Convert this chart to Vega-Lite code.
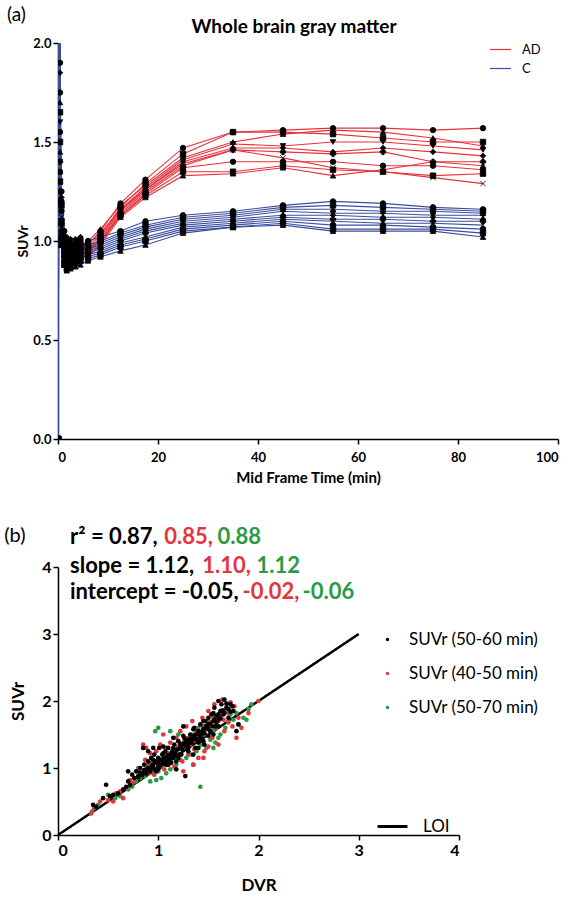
{
"$schema":"https://vega.github.io/schema/vega-lite/v6.json",
"padding":{"left":4,"top":6,"right":5,"bottom":5},
"spacing":40,
"resolve":{"scale":{"color":"independent","shape":"independent","strokeDash":"independent"}},
"config":{"view":{"stroke":null},"font":"Lato","axis":{"domainColor":"black","tickColor":"black","labelColor":"black","titleColor":"black","domainWidth":1.5,"tickWidth":1.5,"grid":false,"labelFontWeight":"bold","titleFontWeight":"bold","labelFont":"Lato","titleFont":"Lato","tickSize":5},"legend":{"labelFont":"Lato","labelColor":"black"}},
"datasets":{"suv":[
{"g":"AD","k":1,"t":0.05,"v":0},{"g":"AD","k":1,"t":0.2,"v":3.2},{"g":"AD","k":1,"t":0.4,"v":1.75},{"g":"AD","k":1,"t":0.7,"v":1.2},{"g":"AD","k":1,"t":1.25,"v":1.0},{"g":"AD","k":1,"t":1.75,"v":0.97},{"g":"AD","k":1,"t":2.5,"v":0.96},{"g":"AD","k":1,"t":3.5,"v":0.97},{"g":"AD","k":1,"t":4.5,"v":0.98},{"g":"AD","k":1,"t":6,"v":0.98},{"g":"AD","k":1,"t":8.5,"v":1.05},{"g":"AD","k":1,"t":12.5,"v":1.19},{"g":"AD","k":1,"t":17.5,"v":1.31},{"g":"AD","k":1,"t":25,"v":1.47},{"g":"AD","k":1,"t":35,"v":1.55},{"g":"AD","k":1,"t":45,"v":1.56},{"g":"AD","k":1,"t":55,"v":1.57},{"g":"AD","k":1,"t":65,"v":1.57},{"g":"AD","k":1,"t":75,"v":1.56},{"g":"AD","k":1,"t":85,"v":1.57},
{"g":"AD","k":2,"t":0.05,"v":0},{"g":"AD","k":2,"t":0.2,"v":2.8},{"g":"AD","k":2,"t":0.4,"v":1.5},{"g":"AD","k":2,"t":0.7,"v":1.1},{"g":"AD","k":2,"t":1.25,"v":0.95},{"g":"AD","k":2,"t":1.75,"v":0.92},{"g":"AD","k":2,"t":2.5,"v":0.93},{"g":"AD","k":2,"t":3.5,"v":0.95},{"g":"AD","k":2,"t":4.5,"v":0.96},{"g":"AD","k":2,"t":6,"v":0.97},{"g":"AD","k":2,"t":8.5,"v":1.03},{"g":"AD","k":2,"t":12.5,"v":1.17},{"g":"AD","k":2,"t":17.5,"v":1.29},{"g":"AD","k":2,"t":25,"v":1.44},{"g":"AD","k":2,"t":35,"v":1.55},{"g":"AD","k":2,"t":45,"v":1.55},{"g":"AD","k":2,"t":55,"v":1.54},{"g":"AD","k":2,"t":65,"v":1.52},{"g":"AD","k":2,"t":75,"v":1.5},{"g":"AD","k":2,"t":85,"v":1.5},
{"g":"AD","k":3,"t":0.05,"v":0},{"g":"AD","k":3,"t":0.2,"v":3.5},{"g":"AD","k":3,"t":0.4,"v":1.35},{"g":"AD","k":3,"t":0.7,"v":1.05},{"g":"AD","k":3,"t":1.25,"v":0.92},{"g":"AD","k":3,"t":1.75,"v":0.9},{"g":"AD","k":3,"t":2.5,"v":0.91},{"g":"AD","k":3,"t":3.5,"v":0.93},{"g":"AD","k":3,"t":4.5,"v":0.95},{"g":"AD","k":3,"t":6,"v":1.0},{"g":"AD","k":3,"t":8.5,"v":1.06},{"g":"AD","k":3,"t":12.5,"v":1.18},{"g":"AD","k":3,"t":17.5,"v":1.28},{"g":"AD","k":3,"t":25,"v":1.42},{"g":"AD","k":3,"t":35,"v":1.5},{"g":"AD","k":3,"t":45,"v":1.54},{"g":"AD","k":3,"t":55,"v":1.56},{"g":"AD","k":3,"t":65,"v":1.55},{"g":"AD","k":3,"t":75,"v":1.52},{"g":"AD","k":3,"t":85,"v":1.48},
{"g":"AD","k":4,"t":0.05,"v":0},{"g":"AD","k":4,"t":0.2,"v":2.5},{"g":"AD","k":4,"t":0.4,"v":1.6},{"g":"AD","k":4,"t":0.7,"v":1.15},{"g":"AD","k":4,"t":1.25,"v":1.02},{"g":"AD","k":4,"t":1.75,"v":0.98},{"g":"AD","k":4,"t":2.5,"v":0.97},{"g":"AD","k":4,"t":3.5,"v":0.98},{"g":"AD","k":4,"t":4.5,"v":0.99},{"g":"AD","k":4,"t":6,"v":0.95},{"g":"AD","k":4,"t":8.5,"v":1.02},{"g":"AD","k":4,"t":12.5,"v":1.16},{"g":"AD","k":4,"t":17.5,"v":1.27},{"g":"AD","k":4,"t":25,"v":1.41},{"g":"AD","k":4,"t":35,"v":1.49},{"g":"AD","k":4,"t":45,"v":1.48},{"g":"AD","k":4,"t":55,"v":1.5},{"g":"AD","k":4,"t":65,"v":1.5},{"g":"AD","k":4,"t":75,"v":1.48},{"g":"AD","k":4,"t":85,"v":1.46},
{"g":"AD","k":5,"t":0.05,"v":0},{"g":"AD","k":5,"t":0.2,"v":3.0},{"g":"AD","k":5,"t":0.4,"v":1.25},{"g":"AD","k":5,"t":0.7,"v":1.0},{"g":"AD","k":5,"t":1.25,"v":0.9},{"g":"AD","k":5,"t":1.75,"v":0.88},{"g":"AD","k":5,"t":2.5,"v":0.89},{"g":"AD","k":5,"t":3.5,"v":0.9},{"g":"AD","k":5,"t":4.5,"v":0.92},{"g":"AD","k":5,"t":6,"v":0.96},{"g":"AD","k":5,"t":8.5,"v":1.01},{"g":"AD","k":5,"t":12.5,"v":1.15},{"g":"AD","k":5,"t":17.5,"v":1.26},{"g":"AD","k":5,"t":25,"v":1.4},{"g":"AD","k":5,"t":35,"v":1.47},{"g":"AD","k":5,"t":45,"v":1.47},{"g":"AD","k":5,"t":55,"v":1.45},{"g":"AD","k":5,"t":65,"v":1.47},{"g":"AD","k":5,"t":75,"v":1.45},{"g":"AD","k":5,"t":85,"v":1.43},
{"g":"AD","k":6,"t":0.05,"v":0},{"g":"AD","k":6,"t":0.2,"v":2.7},{"g":"AD","k":6,"t":0.4,"v":1.4},{"g":"AD","k":6,"t":0.7,"v":1.08},{"g":"AD","k":6,"t":1.25,"v":0.97},{"g":"AD","k":6,"t":1.75,"v":0.95},{"g":"AD","k":6,"t":2.5,"v":0.94},{"g":"AD","k":6,"t":3.5,"v":0.95},{"g":"AD","k":6,"t":4.5,"v":0.96},{"g":"AD","k":6,"t":6,"v":0.94},{"g":"AD","k":6,"t":8.5,"v":1.0},{"g":"AD","k":6,"t":12.5,"v":1.14},{"g":"AD","k":6,"t":17.5,"v":1.25},{"g":"AD","k":6,"t":25,"v":1.38},{"g":"AD","k":6,"t":35,"v":1.46},{"g":"AD","k":6,"t":45,"v":1.45},{"g":"AD","k":6,"t":55,"v":1.44},{"g":"AD","k":6,"t":65,"v":1.45},{"g":"AD","k":6,"t":75,"v":1.4},{"g":"AD","k":6,"t":85,"v":1.4},
{"g":"AD","k":7,"t":0.05,"v":0},{"g":"AD","k":7,"t":0.2,"v":3.8},{"g":"AD","k":7,"t":0.4,"v":1.3},{"g":"AD","k":7,"t":0.7,"v":1.12},{"g":"AD","k":7,"t":1.25,"v":0.99},{"g":"AD","k":7,"t":1.75,"v":0.96},{"g":"AD","k":7,"t":2.5,"v":0.95},{"g":"AD","k":7,"t":3.5,"v":0.96},{"g":"AD","k":7,"t":4.5,"v":0.98},{"g":"AD","k":7,"t":6,"v":0.99},{"g":"AD","k":7,"t":8.5,"v":1.04},{"g":"AD","k":7,"t":12.5,"v":1.16},{"g":"AD","k":7,"t":17.5,"v":1.26},{"g":"AD","k":7,"t":25,"v":1.39},{"g":"AD","k":7,"t":35,"v":1.46},{"g":"AD","k":7,"t":45,"v":1.42},{"g":"AD","k":7,"t":55,"v":1.37},{"g":"AD","k":7,"t":65,"v":1.35},{"g":"AD","k":7,"t":75,"v":1.32},{"g":"AD","k":7,"t":85,"v":1.29},
{"g":"AD","k":8,"t":0.05,"v":0},{"g":"AD","k":8,"t":0.2,"v":2.4},{"g":"AD","k":8,"t":0.4,"v":1.9},{"g":"AD","k":8,"t":0.7,"v":1.25},{"g":"AD","k":8,"t":1.25,"v":1.05},{"g":"AD","k":8,"t":1.75,"v":1.0},{"g":"AD","k":8,"t":2.5,"v":0.99},{"g":"AD","k":8,"t":3.5,"v":1.0},{"g":"AD","k":8,"t":4.5,"v":1.01},{"g":"AD","k":8,"t":6,"v":0.93},{"g":"AD","k":8,"t":8.5,"v":0.99},{"g":"AD","k":8,"t":12.5,"v":1.13},{"g":"AD","k":8,"t":17.5,"v":1.24},{"g":"AD","k":8,"t":25,"v":1.37},{"g":"AD","k":8,"t":35,"v":1.4},{"g":"AD","k":8,"t":45,"v":1.4},{"g":"AD","k":8,"t":55,"v":1.4},{"g":"AD","k":8,"t":65,"v":1.38},{"g":"AD","k":8,"t":75,"v":1.38},{"g":"AD","k":8,"t":85,"v":1.36},
{"g":"AD","k":9,"t":0.05,"v":0},{"g":"AD","k":9,"t":0.2,"v":2.9},{"g":"AD","k":9,"t":0.4,"v":1.2},{"g":"AD","k":9,"t":0.7,"v":0.98},{"g":"AD","k":9,"t":1.25,"v":0.88},{"g":"AD","k":9,"t":1.75,"v":0.86},{"g":"AD","k":9,"t":2.5,"v":0.87},{"g":"AD","k":9,"t":3.5,"v":0.89},{"g":"AD","k":9,"t":4.5,"v":0.9},{"g":"AD","k":9,"t":6,"v":0.95},{"g":"AD","k":9,"t":8.5,"v":1.0},{"g":"AD","k":9,"t":12.5,"v":1.13},{"g":"AD","k":9,"t":17.5,"v":1.23},{"g":"AD","k":9,"t":25,"v":1.35},{"g":"AD","k":9,"t":35,"v":1.35},{"g":"AD","k":9,"t":45,"v":1.38},{"g":"AD","k":9,"t":55,"v":1.36},{"g":"AD","k":9,"t":65,"v":1.35},{"g":"AD","k":9,"t":75,"v":1.33},{"g":"AD","k":9,"t":85,"v":1.34},
{"g":"AD","k":10,"t":0.05,"v":0},{"g":"AD","k":10,"t":0.2,"v":3.1},{"g":"AD","k":10,"t":0.4,"v":1.45},{"g":"AD","k":10,"t":0.7,"v":1.1},{"g":"AD","k":10,"t":1.25,"v":0.96},{"g":"AD","k":10,"t":1.75,"v":0.93},{"g":"AD","k":10,"t":2.5,"v":0.92},{"g":"AD","k":10,"t":3.5,"v":0.93},{"g":"AD","k":10,"t":4.5,"v":0.94},{"g":"AD","k":10,"t":6,"v":0.92},{"g":"AD","k":10,"t":8.5,"v":0.98},{"g":"AD","k":10,"t":12.5,"v":1.12},{"g":"AD","k":10,"t":17.5,"v":1.22},{"g":"AD","k":10,"t":25,"v":1.33},{"g":"AD","k":10,"t":35,"v":1.34},{"g":"AD","k":10,"t":45,"v":1.37},{"g":"AD","k":10,"t":55,"v":1.33},{"g":"AD","k":10,"t":65,"v":1.36},{"g":"AD","k":10,"t":75,"v":1.4},{"g":"AD","k":10,"t":85,"v":1.38},
{"g":"C","k":1,"t":0.05,"v":0},{"g":"C","k":1,"t":0.2,"v":3.0},{"g":"C","k":1,"t":0.4,"v":1.55},{"g":"C","k":1,"t":0.7,"v":1.15},{"g":"C","k":1,"t":1.25,"v":0.98},{"g":"C","k":1,"t":1.75,"v":0.95},{"g":"C","k":1,"t":2.5,"v":0.95},{"g":"C","k":1,"t":3.5,"v":0.96},{"g":"C","k":1,"t":4.5,"v":0.97},{"g":"C","k":1,"t":6,"v":1.0},{"g":"C","k":1,"t":8.5,"v":1.02},{"g":"C","k":1,"t":12.5,"v":1.05},{"g":"C","k":1,"t":17.5,"v":1.1},{"g":"C","k":1,"t":25,"v":1.13},{"g":"C","k":1,"t":35,"v":1.15},{"g":"C","k":1,"t":45,"v":1.18},{"g":"C","k":1,"t":55,"v":1.2},{"g":"C","k":1,"t":65,"v":1.19},{"g":"C","k":1,"t":75,"v":1.17},{"g":"C","k":1,"t":85,"v":1.16},
{"g":"C","k":2,"t":0.05,"v":0},{"g":"C","k":2,"t":0.2,"v":2.6},{"g":"C","k":2,"t":0.4,"v":1.3},{"g":"C","k":2,"t":0.7,"v":1.02},{"g":"C","k":2,"t":1.25,"v":0.93},{"g":"C","k":2,"t":1.75,"v":0.9},{"g":"C","k":2,"t":2.5,"v":0.91},{"g":"C","k":2,"t":3.5,"v":0.92},{"g":"C","k":2,"t":4.5,"v":0.93},{"g":"C","k":2,"t":6,"v":0.98},{"g":"C","k":2,"t":8.5,"v":1.0},{"g":"C","k":2,"t":12.5,"v":1.04},{"g":"C","k":2,"t":17.5,"v":1.08},{"g":"C","k":2,"t":25,"v":1.12},{"g":"C","k":2,"t":35,"v":1.14},{"g":"C","k":2,"t":45,"v":1.17},{"g":"C","k":2,"t":55,"v":1.18},{"g":"C","k":2,"t":65,"v":1.17},{"g":"C","k":2,"t":75,"v":1.16},{"g":"C","k":2,"t":85,"v":1.15},
{"g":"C","k":3,"t":0.05,"v":0},{"g":"C","k":3,"t":0.2,"v":3.4},{"g":"C","k":3,"t":0.4,"v":1.7},{"g":"C","k":3,"t":0.7,"v":1.2},{"g":"C","k":3,"t":1.25,"v":1.03},{"g":"C","k":3,"t":1.75,"v":1.0},{"g":"C","k":3,"t":2.5,"v":0.99},{"g":"C","k":3,"t":3.5,"v":0.99},{"g":"C","k":3,"t":4.5,"v":1.0},{"g":"C","k":3,"t":6,"v":0.97},{"g":"C","k":3,"t":8.5,"v":0.99},{"g":"C","k":3,"t":12.5,"v":1.03},{"g":"C","k":3,"t":17.5,"v":1.07},{"g":"C","k":3,"t":25,"v":1.11},{"g":"C","k":3,"t":35,"v":1.13},{"g":"C","k":3,"t":45,"v":1.16},{"g":"C","k":3,"t":55,"v":1.16},{"g":"C","k":3,"t":65,"v":1.15},{"g":"C","k":3,"t":75,"v":1.15},{"g":"C","k":3,"t":85,"v":1.14},
{"g":"C","k":4,"t":0.05,"v":0},{"g":"C","k":4,"t":0.2,"v":2.7},{"g":"C","k":4,"t":0.4,"v":1.4},{"g":"C","k":4,"t":0.7,"v":1.1},{"g":"C","k":4,"t":1.25,"v":0.96},{"g":"C","k":4,"t":1.75,"v":0.93},{"g":"C","k":4,"t":2.5,"v":0.93},{"g":"C","k":4,"t":3.5,"v":0.94},{"g":"C","k":4,"t":4.5,"v":0.95},{"g":"C","k":4,"t":6,"v":0.96},{"g":"C","k":4,"t":8.5,"v":0.98},{"g":"C","k":4,"t":12.5,"v":1.02},{"g":"C","k":4,"t":17.5,"v":1.06},{"g":"C","k":4,"t":25,"v":1.1},{"g":"C","k":4,"t":35,"v":1.12},{"g":"C","k":4,"t":45,"v":1.15},{"g":"C","k":4,"t":55,"v":1.14},{"g":"C","k":4,"t":65,"v":1.14},{"g":"C","k":4,"t":75,"v":1.13},{"g":"C","k":4,"t":85,"v":1.13},
{"g":"C","k":5,"t":0.05,"v":0},{"g":"C","k":5,"t":0.2,"v":3.6},{"g":"C","k":5,"t":0.4,"v":1.85},{"g":"C","k":5,"t":0.7,"v":1.22},{"g":"C","k":5,"t":1.25,"v":1.05},{"g":"C","k":5,"t":1.75,"v":1.02},{"g":"C","k":5,"t":2.5,"v":1.01},{"g":"C","k":5,"t":3.5,"v":1.01},{"g":"C","k":5,"t":4.5,"v":1.02},{"g":"C","k":5,"t":6,"v":0.95},{"g":"C","k":5,"t":8.5,"v":0.97},{"g":"C","k":5,"t":12.5,"v":1.01},{"g":"C","k":5,"t":17.5,"v":1.05},{"g":"C","k":5,"t":25,"v":1.09},{"g":"C","k":5,"t":35,"v":1.11},{"g":"C","k":5,"t":45,"v":1.13},{"g":"C","k":5,"t":55,"v":1.13},{"g":"C","k":5,"t":65,"v":1.12},{"g":"C","k":5,"t":75,"v":1.12},{"g":"C","k":5,"t":85,"v":1.11},
{"g":"C","k":6,"t":0.05,"v":0},{"g":"C","k":6,"t":0.2,"v":2.5},{"g":"C","k":6,"t":0.4,"v":1.25},{"g":"C","k":6,"t":0.7,"v":1.0},{"g":"C","k":6,"t":1.25,"v":0.9},{"g":"C","k":6,"t":1.75,"v":0.88},{"g":"C","k":6,"t":2.5,"v":0.89},{"g":"C","k":6,"t":3.5,"v":0.9},{"g":"C","k":6,"t":4.5,"v":0.91},{"g":"C","k":6,"t":6,"v":0.94},{"g":"C","k":6,"t":8.5,"v":0.96},{"g":"C","k":6,"t":12.5,"v":1.0},{"g":"C","k":6,"t":17.5,"v":1.04},{"g":"C","k":6,"t":25,"v":1.08},{"g":"C","k":6,"t":35,"v":1.1},{"g":"C","k":6,"t":45,"v":1.12},{"g":"C","k":6,"t":55,"v":1.11},{"g":"C","k":6,"t":65,"v":1.11},{"g":"C","k":6,"t":75,"v":1.1},{"g":"C","k":6,"t":85,"v":1.1},
{"g":"C","k":7,"t":0.05,"v":0},{"g":"C","k":7,"t":0.2,"v":3.1},{"g":"C","k":7,"t":0.4,"v":1.5},{"g":"C","k":7,"t":0.7,"v":1.12},{"g":"C","k":7,"t":1.25,"v":0.97},{"g":"C","k":7,"t":1.75,"v":0.94},{"g":"C","k":7,"t":2.5,"v":0.93},{"g":"C","k":7,"t":3.5,"v":0.94},{"g":"C","k":7,"t":4.5,"v":0.95},{"g":"C","k":7,"t":6,"v":0.93},{"g":"C","k":7,"t":8.5,"v":0.95},{"g":"C","k":7,"t":12.5,"v":0.99},{"g":"C","k":7,"t":17.5,"v":1.02},{"g":"C","k":7,"t":25,"v":1.07},{"g":"C","k":7,"t":35,"v":1.09},{"g":"C","k":7,"t":45,"v":1.11},{"g":"C","k":7,"t":55,"v":1.1},{"g":"C","k":7,"t":65,"v":1.09},{"g":"C","k":7,"t":75,"v":1.09},{"g":"C","k":7,"t":85,"v":1.08},
{"g":"C","k":8,"t":0.05,"v":0},{"g":"C","k":8,"t":0.2,"v":2.9},{"g":"C","k":8,"t":0.4,"v":1.35},{"g":"C","k":8,"t":0.7,"v":1.05},{"g":"C","k":8,"t":1.25,"v":0.92},{"g":"C","k":8,"t":1.75,"v":0.9},{"g":"C","k":8,"t":2.5,"v":0.9},{"g":"C","k":8,"t":3.5,"v":0.91},{"g":"C","k":8,"t":4.5,"v":0.92},{"g":"C","k":8,"t":6,"v":0.92},{"g":"C","k":8,"t":8.5,"v":0.94},{"g":"C","k":8,"t":12.5,"v":0.98},{"g":"C","k":8,"t":17.5,"v":1.01},{"g":"C","k":8,"t":25,"v":1.06},{"g":"C","k":8,"t":35,"v":1.08},{"g":"C","k":8,"t":45,"v":1.1},{"g":"C","k":8,"t":55,"v":1.08},{"g":"C","k":8,"t":65,"v":1.08},{"g":"C","k":8,"t":75,"v":1.07},{"g":"C","k":8,"t":85,"v":1.06},
{"g":"C","k":9,"t":0.05,"v":0},{"g":"C","k":9,"t":0.2,"v":3.3},{"g":"C","k":9,"t":0.4,"v":1.65},{"g":"C","k":9,"t":0.7,"v":1.18},{"g":"C","k":9,"t":1.25,"v":1.0},{"g":"C","k":9,"t":1.75,"v":0.97},{"g":"C","k":9,"t":2.5,"v":0.96},{"g":"C","k":9,"t":3.5,"v":0.96},{"g":"C","k":9,"t":4.5,"v":0.97},{"g":"C","k":9,"t":6,"v":0.91},{"g":"C","k":9,"t":8.5,"v":0.93},{"g":"C","k":9,"t":12.5,"v":0.97},{"g":"C","k":9,"t":17.5,"v":1.0},{"g":"C","k":9,"t":25,"v":1.05},{"g":"C","k":9,"t":35,"v":1.07},{"g":"C","k":9,"t":45,"v":1.09},{"g":"C","k":9,"t":55,"v":1.06},{"g":"C","k":9,"t":65,"v":1.06},{"g":"C","k":9,"t":75,"v":1.06},{"g":"C","k":9,"t":85,"v":1.04},
{"g":"C","k":10,"t":0.05,"v":0},{"g":"C","k":10,"t":0.2,"v":2.8},{"g":"C","k":10,"t":0.4,"v":1.2},{"g":"C","k":10,"t":0.7,"v":0.98},{"g":"C","k":10,"t":1.25,"v":0.88},{"g":"C","k":10,"t":1.75,"v":0.85},{"g":"C","k":10,"t":2.5,"v":0.86},{"g":"C","k":10,"t":3.5,"v":0.87},{"g":"C","k":10,"t":4.5,"v":0.88},{"g":"C","k":10,"t":6,"v":0.9},{"g":"C","k":10,"t":8.5,"v":0.92},{"g":"C","k":10,"t":12.5,"v":0.95},{"g":"C","k":10,"t":17.5,"v":0.98},{"g":"C","k":10,"t":25,"v":1.04},{"g":"C","k":10,"t":35,"v":1.07},{"g":"C","k":10,"t":45,"v":1.08},{"g":"C","k":10,"t":55,"v":1.05},{"g":"C","k":10,"t":65,"v":1.05},{"g":"C","k":10,"t":75,"v":1.05},{"g":"C","k":10,"t":85,"v":1.02}
]},
"vconcat":[
{
"width":500,"height":396,
"data":{"values":[{}]},
"layer":[
{"data":{"name":"suv"},"mark":{"type":"line","clip":true,"strokeWidth":1.1},"encoding":{
"x":{"field":"t","type":"quantitative","scale":{"domain":[0,100],"nice":false},"axis":{"values":[0,20,40,60,80,100],"format":"d","title":"Mid Frame Time (min)","labelFontSize":13,"labelPadding":7,"titleFontSize":15,"titlePadding":6}},
"y":{"field":"v","type":"quantitative","scale":{"domain":[0,2],"nice":false},"axis":{"values":[0,0.5,1,1.5,2],"format":".1f","title":"SUVr","labelFontSize":13,"titleFontSize":14,"titlePadding":2}},
"color":{"field":"g","type":"nominal","scale":{"domain":["AD","C"],"range":["#e8313b","#3b4e9e"]},"legend":{"title":null,"orient":"none","legendX":431,"legendY":-5,"symbolType":"stroke","symbolSize":441,"symbolStrokeWidth":1.2,"labelFontSize":13,"rowPadding":0,"labelOffset":10}},"detail":[{"field":"g"},{"field":"k"}]}},
{"data":{"name":"suv"},"mark":{"type":"point","clip":true,"filled":true,"size":30,"color":"black","stroke":"black","strokeWidth":0.8,"opacity":1},"encoding":{
"x":{"field":"t","type":"quantitative"},"y":{"field":"v","type":"quantitative"},
"shape":{"field":"k","type":"nominal","scale":{"range":["circle","square","triangle-up","triangle-down","diamond","cross","M-1,-1L1,1M1,-1L-1,1","circle","square","triangle-up"]},"legend":null}}},
{"mark":{"type":"text","fontSize":19,"align":"center","baseline":"middle","color":"black"},"encoding":{"x":{"datum":-8.3,"type":"quantitative"},"y":{"datum":2.14,"type":"quantitative"},"text":{"value":"(a)"}}},
{"mark":{"type":"text","fontSize":19,"fontWeight":"bold","align":"center","baseline":"middle","color":"black"},"encoding":{"x":{"datum":47.2,"type":"quantitative"},"y":{"datum":2.08,"type":"quantitative"},"text":{"value":"Whole brain gray matter"}}}
]
},
{
"width":401,"height":268,
"data":{"values":[{}]},
"layer":[
{"data":{"values":[{"x":0,"y":0,"l":"LOI"},{"x":3,"y":3,"l":"LOI"}]},"mark":{"type":"line","color":"black","strokeWidth":2.5},"encoding":{
"x":{"field":"x","type":"quantitative","scale":{"domain":[0,4],"nice":false},"axis":{"values":[0,1,2,3,4],"format":"d","title":"DVR","labelFontSize":16,"titleFontSize":17,"titlePadding":19}},
"y":{"field":"y","type":"quantitative","scale":{"domain":[0,4],"nice":false},"axis":{"values":[0,1,2,3,4],"format":"d","title":"SUVr","labelFontSize":16,"titleFontSize":17,"titlePadding":14}},
"strokeDash":{"field":"l","type":"nominal","scale":{"range":[[1,0]]},"legend":{"title":null,"orient":"none","legendX":318,"legendY":243,"symbolType":"stroke","symbolSize":900,"symbolStrokeWidth":3,"symbolStrokeColor":"black","labelFontSize":17,"labelOffset":14}}}},
{"data":{"values":[
{"s":"C","x":0.34,"y":0.35},{"s":"C","x":0.4,"y":0.45},{"s":"C","x":0.5,"y":0.6},{"s":"C","x":0.57,"y":0.55},{"s":"C","x":0.62,"y":0.58},{"s":"C","x":0.7,"y":0.68},{"s":"C","x":0.74,"y":0.72},{"s":"C","x":0.78,"y":0.8},{"s":"C","x":0.8,"y":1.0},{"s":"C","x":0.82,"y":0.85},{"s":"C","x":0.86,"y":0.88},{"s":"C","x":0.9,"y":1.05},{"s":"C","x":0.92,"y":0.8},{"s":"C","x":0.95,"y":0.92},{"s":"C","x":0.97,"y":1.55},{"s":"C","x":1.0,"y":1.6},{"s":"C","x":1.0,"y":0.95},{"s":"C","x":1.03,"y":0.85},{"s":"C","x":1.05,"y":1.08},{"s":"C","x":1.08,"y":0.92},{"s":"C","x":1.1,"y":1.15},{"s":"C","x":1.12,"y":0.98},{"s":"C","x":1.15,"y":1.25},{"s":"C","x":1.18,"y":1.05},{"s":"C","x":1.2,"y":1.5},{"s":"C","x":1.22,"y":1.12},{"s":"C","x":1.25,"y":1.3},{"s":"C","x":1.28,"y":1.15},{"s":"C","x":1.3,"y":1.4},{"s":"C","x":1.33,"y":1.2},{"s":"C","x":1.35,"y":1.5},{"s":"C","x":1.38,"y":1.25},{"s":"C","x":1.4,"y":1.6},{"s":"C","x":1.42,"y":0.72},{"s":"C","x":1.43,"y":1.35},{"s":"C","x":1.46,"y":1.5},{"s":"C","x":1.48,"y":1.3},{"s":"C","x":1.5,"y":1.7},{"s":"C","x":1.52,"y":1.42},{"s":"C","x":1.55,"y":1.55},{"s":"C","x":1.57,"y":1.38},{"s":"C","x":1.6,"y":1.75},{"s":"C","x":1.62,"y":1.5},{"s":"C","x":1.65,"y":1.85},{"s":"C","x":1.67,"y":1.6},{"s":"C","x":1.7,"y":1.68},{"s":"C","x":1.72,"y":1.8},{"s":"C","x":1.75,"y":1.72},{"s":"C","x":1.78,"y":1.82},{"s":"C","x":1.8,"y":1.65},{"s":"C","x":1.85,"y":1.75},{"s":"C","x":1.9,"y":1.88},{"s":"C","x":1.93,"y":1.95},{"s":"C","x":1.88,"y":1.72},{"s":"C","x":1.6,"y":1.45},{"s":"C","x":1.12,"y":1.55},{"s":"C","x":0.98,"y":0.82},{"s":"C","x":1.35,"y":1.05},{"s":"C","x":1.55,"y":1.3},
{"s":"B","x":0.33,"y":0.32},{"s":"B","x":0.36,"y":0.4},{"s":"B","x":0.42,"y":0.5},{"s":"B","x":0.5,"y":0.52},{"s":"B","x":0.58,"y":0.62},{"s":"B","x":0.62,"y":0.65},{"s":"B","x":0.68,"y":0.7},{"s":"B","x":0.72,"y":0.82},{"s":"B","x":0.75,"y":0.78},{"s":"B","x":0.8,"y":0.95},{"s":"B","x":0.83,"y":0.9},{"s":"B","x":0.85,"y":1.35},{"s":"B","x":0.87,"y":1.12},{"s":"B","x":0.9,"y":0.92},{"s":"B","x":0.92,"y":1.22},{"s":"B","x":0.94,"y":1.08},{"s":"B","x":0.96,"y":0.9},{"s":"B","x":0.98,"y":1.25},{"s":"B","x":1.0,"y":1.0},{"s":"B","x":1.02,"y":1.35},{"s":"B","x":1.04,"y":1.12},{"s":"B","x":1.06,"y":0.98},{"s":"B","x":1.08,"y":1.3},{"s":"B","x":1.1,"y":1.05},{"s":"B","x":1.12,"y":1.38},{"s":"B","x":1.14,"y":1.15},{"s":"B","x":1.16,"y":1.02},{"s":"B","x":1.18,"y":1.45},{"s":"B","x":1.2,"y":1.18},{"s":"B","x":1.22,"y":1.55},{"s":"B","x":1.24,"y":1.1},{"s":"B","x":1.26,"y":1.4},{"s":"B","x":1.28,"y":1.62},{"s":"B","x":1.3,"y":1.2},{"s":"B","x":1.32,"y":1.35},{"s":"B","x":1.34,"y":1.7},{"s":"B","x":1.36,"y":1.28},{"s":"B","x":1.38,"y":1.55},{"s":"B","x":1.4,"y":1.15},{"s":"B","x":1.42,"y":1.48},{"s":"B","x":1.44,"y":1.75},{"s":"B","x":1.46,"y":1.25},{"s":"B","x":1.48,"y":1.58},{"s":"B","x":1.5,"y":1.85},{"s":"B","x":1.5,"y":1.32},{"s":"B","x":1.52,"y":1.68},{"s":"B","x":1.54,"y":1.45},{"s":"B","x":1.56,"y":1.95},{"s":"B","x":1.58,"y":1.6},{"s":"B","x":1.6,"y":1.35},{"s":"B","x":1.62,"y":1.78},{"s":"B","x":1.64,"y":2.02},{"s":"B","x":1.66,"y":1.55},{"s":"B","x":1.68,"y":1.88},{"s":"B","x":1.7,"y":1.7},{"s":"B","x":1.72,"y":1.98},{"s":"B","x":1.74,"y":1.62},{"s":"B","x":1.76,"y":1.92},{"s":"B","x":1.78,"y":1.45},{"s":"B","x":1.8,"y":1.75},{"s":"B","x":1.83,"y":1.6},{"s":"B","x":2.0,"y":2.0},{"s":"B","x":1.9,"y":1.82},{"s":"B","x":1.45,"y":1.15},{"s":"B","x":1.35,"y":1.05},{"s":"B","x":0.88,"y":1.3},{"s":"B","x":1.05,"y":1.5},{"s":"B","x":1.25,"y":0.95},{"s":"B","x":0.65,"y":0.55},{"s":"B","x":0.55,"y":0.5},{"s":"B","x":0.9,"y":1.02},{"s":"B","x":1.0,"y":1.12},{"s":"B","x":1.1,"y":1.22},{"s":"B","x":1.2,"y":1.32},{"s":"B","x":1.3,"y":1.45},{"s":"B","x":1.4,"y":1.52},{"s":"B","x":1.5,"y":1.6},{"s":"B","x":1.6,"y":1.7},{"s":"B","x":1.7,"y":1.82},{"s":"B","x":0.95,"y":0.98},{"s":"B","x":1.05,"y":1.05},{"s":"B","x":1.15,"y":1.25},{"s":"B","x":1.25,"y":1.32},{"s":"B","x":1.35,"y":1.4},{"s":"B","x":1.45,"y":1.62},{"s":"B","x":1.55,"y":1.75},{"s":"B","x":1.65,"y":1.72},
{"s":"A","x":0.35,"y":0.45},{"s":"A","x":0.38,"y":0.42},{"s":"A","x":0.45,"y":0.55},{"s":"A","x":0.48,"y":0.75},{"s":"A","x":0.52,"y":0.58},{"s":"A","x":0.55,"y":0.6},{"s":"A","x":0.6,"y":0.62},{"s":"A","x":0.65,"y":0.68},{"s":"A","x":0.68,"y":0.72},{"s":"A","x":0.7,"y":0.8},{"s":"A","x":0.72,"y":0.75},{"s":"A","x":0.74,"y":0.9},{"s":"A","x":0.76,"y":0.85},{"s":"A","x":0.78,"y":0.95},{"s":"A","x":0.8,"y":0.88},{"s":"A","x":0.82,"y":1.0},{"s":"A","x":0.84,"y":0.92},{"s":"A","x":0.85,"y":1.3},{"s":"A","x":0.86,"y":1.05},{"s":"A","x":0.88,"y":0.98},{"s":"A","x":0.9,"y":1.1},{"s":"A","x":0.9,"y":1.25},{"s":"A","x":0.92,"y":1.0},{"s":"A","x":0.93,"y":1.15},{"s":"A","x":0.95,"y":1.05},{"s":"A","x":0.96,"y":1.2},{"s":"A","x":0.97,"y":1.1},{"s":"A","x":0.98,"y":0.95},{"s":"A","x":1.0,"y":1.08},{"s":"A","x":1.0,"y":1.15},{"s":"A","x":1.01,"y":1.3},{"s":"A","x":1.02,"y":1.02},{"s":"A","x":1.03,"y":1.12},{"s":"A","x":1.04,"y":1.2},{"s":"A","x":1.05,"y":1.08},{"s":"A","x":1.06,"y":1.15},{"s":"A","x":1.07,"y":1.25},{"s":"A","x":1.08,"y":1.05},{"s":"A","x":1.09,"y":1.18},{"s":"A","x":1.1,"y":1.12},{"s":"A","x":1.1,"y":1.3},{"s":"A","x":1.12,"y":1.2},{"s":"A","x":1.13,"y":1.08},{"s":"A","x":1.14,"y":1.25},{"s":"A","x":1.15,"y":1.15},{"s":"A","x":1.16,"y":1.35},{"s":"A","x":1.17,"y":1.22},{"s":"A","x":1.18,"y":1.1},{"s":"A","x":1.2,"y":1.28},{"s":"A","x":1.2,"y":1.4},{"s":"A","x":1.22,"y":1.3},{"s":"A","x":1.23,"y":1.2},{"s":"A","x":1.25,"y":1.35},{"s":"A","x":1.26,"y":1.45},{"s":"A","x":1.27,"y":0.88},{"s":"A","x":1.28,"y":1.32},{"s":"A","x":1.3,"y":1.42},{"s":"A","x":1.3,"y":1.25},{"s":"A","x":1.32,"y":1.5},{"s":"A","x":1.33,"y":1.38},{"s":"A","x":1.35,"y":1.45},{"s":"A","x":1.36,"y":1.6},{"s":"A","x":1.37,"y":1.3},{"s":"A","x":1.38,"y":1.5},{"s":"A","x":1.4,"y":1.55},{"s":"A","x":1.41,"y":1.4},{"s":"A","x":1.42,"y":1.65},{"s":"A","x":1.43,"y":1.5},{"s":"A","x":1.45,"y":1.58},{"s":"A","x":1.46,"y":1.35},{"s":"A","x":1.47,"y":1.7},{"s":"A","x":1.48,"y":1.6},{"s":"A","x":1.5,"y":1.65},{"s":"A","x":1.5,"y":1.75},{"s":"A","x":1.52,"y":1.55},{"s":"A","x":1.53,"y":1.8},{"s":"A","x":1.55,"y":1.7},{"s":"A","x":1.56,"y":1.9},{"s":"A","x":1.57,"y":1.62},{"s":"A","x":1.58,"y":1.78},{"s":"A","x":1.6,"y":2.0},{"s":"A","x":1.6,"y":1.72},{"s":"A","x":1.62,"y":1.85},{"s":"A","x":1.63,"y":1.95},{"s":"A","x":1.65,"y":1.8},{"s":"A","x":1.66,"y":2.02},{"s":"A","x":1.68,"y":1.9},{"s":"A","x":1.7,"y":1.75},{"s":"A","x":1.72,"y":1.95},{"s":"A","x":1.75,"y":1.85},{"s":"A","x":1.78,"y":1.55},{"s":"A","x":1.8,"y":1.65},{"s":"A","x":1.25,"y":1.62},{"s":"A","x":1.15,"y":1.45},{"s":"A","x":1.05,"y":1.32},{"s":"A","x":0.95,"y":1.3},{"s":"A","x":0.7,"y":0.95},{"s":"A","x":1.35,"y":1.2},{"s":"A","x":1.45,"y":1.4},{"s":"A","x":1.55,"y":1.5},{"s":"A","x":1.4,"y":1.3},{"s":"A","x":1.18,"y":0.98},
{"s":"A","x":0.8,"y":0.86},{"s":"A","x":0.82,"y":0.93},{"s":"A","x":0.84,"y":0.89},{"s":"A","x":0.86,"y":0.97},{"s":"A","x":0.88,"y":0.92},{"s":"A","x":0.9,"y":1.0},{"s":"A","x":0.92,"y":0.95},{"s":"A","x":0.94,"y":1.04},{"s":"A","x":0.96,"y":0.99},{"s":"A","x":0.98,"y":1.08},{"s":"A","x":1.0,"y":1.02},{"s":"A","x":1.02,"y":1.12},{"s":"A","x":1.04,"y":1.06},{"s":"A","x":1.06,"y":1.14},{"s":"A","x":1.08,"y":1.1},{"s":"A","x":1.1,"y":1.19},{"s":"A","x":1.12,"y":1.13},{"s":"A","x":1.14,"y":1.22},{"s":"A","x":1.16,"y":1.17},{"s":"A","x":1.18,"y":1.27},{"s":"A","x":1.2,"y":1.2},{"s":"A","x":1.22,"y":1.36},{"s":"A","x":1.24,"y":1.28},{"s":"A","x":1.26,"y":1.37},{"s":"A","x":1.28,"y":1.4},{"s":"A","x":1.3,"y":1.35},{"s":"A","x":1.32,"y":1.44},{"s":"A","x":1.34,"y":1.41},{"s":"A","x":1.36,"y":1.48},{"s":"A","x":1.38,"y":1.43},{"s":"A","x":1.4,"y":1.5},{"s":"A","x":1.42,"y":1.46},{"s":"A","x":1.44,"y":1.55},{"s":"A","x":1.46,"y":1.52},{"s":"A","x":1.48,"y":1.63},{"s":"A","x":1.5,"y":1.58},{"s":"A","x":1.52,"y":1.66},{"s":"A","x":1.54,"y":1.62},{"s":"A","x":1.56,"y":1.72},{"s":"A","x":1.58,"y":1.68},{"s":"A","x":1.6,"y":1.8},{"s":"A","x":1.62,"y":1.74},{"s":"A","x":1.64,"y":1.86},{"s":"A","x":1.66,"y":1.82},{"s":"A","x":1.68,"y":1.96},{"s":"A","x":1.7,"y":1.88},{"s":"A","x":1.72,"y":1.84},{"s":"A","x":1.74,"y":1.92},{"s":"A","x":0.95,"y":1.12},{"s":"A","x":1.05,"y":1.22},{"s":"A","x":1.15,"y":1.3},{"s":"A","x":1.25,"y":1.48},{"s":"A","x":1.35,"y":1.58},{"s":"A","x":1.45,"y":1.7},{"s":"A","x":1.55,"y":1.82},{"s":"A","x":1.0,"y":0.98},{"s":"A","x":1.1,"y":1.05},{"s":"A","x":1.2,"y":1.15},{"s":"A","x":1.3,"y":1.3},{"s":"A","x":1.4,"y":1.38},{"s":"A","x":1.5,"y":1.48},{"s":"A","x":1.6,"y":1.62}
]},"mark":{"type":"point","filled":true,"size":22,"opacity":1},"encoding":{
"x":{"field":"x","type":"quantitative"},"y":{"field":"y","type":"quantitative"},
"color":{"field":"s","type":"nominal","scale":{"domain":["A","B","C"],"range":["black","#e4343c","#2a9a44"]},"legend":{"title":null,"orient":"none","legendX":321,"legendY":64,"symbolType":"circle","symbolSize":12,"labelFontSize":17,"rowPadding":16,"labelOffset":13,"labelExpr":"datum.label=='A'?'SUVr (50-60 min)':datum.label=='B'?'SUVr (40-50 min)':'SUVr (50-70 min)'"}}}},
{"mark":{"type":"text","fontSize":20,"align":"center","baseline":"middle","color":"black"},"encoding":{"x":{"datum":-0.43,"type":"quantitative"},"y":{"datum":4.46,"type":"quantitative"},"text":{"value":"(b)"}}},
{"mark":{"type":"text","fontSize":22,"fontWeight":"bold","align":"left","baseline":"middle","color":"black"},"encoding":{"x":{"datum":0.12,"type":"quantitative"},"y":{"datum":4.45,"type":"quantitative"},"text":{"value":"r² = 0.87,"}}},
{"mark":{"type":"text","fontSize":22,"fontWeight":"bold","align":"left","baseline":"middle","color":"#e4343c"},"encoding":{"x":{"datum":1.06,"type":"quantitative"},"y":{"datum":4.45,"type":"quantitative"},"text":{"value":"0.85,"}}},
{"mark":{"type":"text","fontSize":22,"fontWeight":"bold","align":"left","baseline":"middle","color":"#2a9a44"},"encoding":{"x":{"datum":1.59,"type":"quantitative"},"y":{"datum":4.45,"type":"quantitative"},"text":{"value":"0.88"}}},
{"mark":{"type":"text","fontSize":22,"fontWeight":"bold","align":"left","baseline":"middle","color":"black"},"encoding":{"x":{"datum":0.12,"type":"quantitative"},"y":{"datum":4.01,"type":"quantitative"},"text":{"value":"slope = 1.12,"}}},
{"mark":{"type":"text","fontSize":22,"fontWeight":"bold","align":"left","baseline":"middle","color":"#e4343c"},"encoding":{"x":{"datum":1.44,"type":"quantitative"},"y":{"datum":4.01,"type":"quantitative"},"text":{"value":"1.10,"}}},
{"mark":{"type":"text","fontSize":22,"fontWeight":"bold","align":"left","baseline":"middle","color":"#2a9a44"},"encoding":{"x":{"datum":1.98,"type":"quantitative"},"y":{"datum":4.01,"type":"quantitative"},"text":{"value":"1.12"}}},
{"mark":{"type":"text","fontSize":22,"fontWeight":"bold","align":"left","baseline":"middle","color":"black"},"encoding":{"x":{"datum":0.12,"type":"quantitative"},"y":{"datum":3.63,"type":"quantitative"},"text":{"value":"intercept = -0.05,"}}},
{"mark":{"type":"text","fontSize":22,"fontWeight":"bold","align":"left","baseline":"middle","color":"#e4343c"},"encoding":{"x":{"datum":1.84,"type":"quantitative"},"y":{"datum":3.63,"type":"quantitative"},"text":{"value":"-0.02,"}}},
{"mark":{"type":"text","fontSize":22,"fontWeight":"bold","align":"left","baseline":"middle","color":"#2a9a44"},"encoding":{"x":{"datum":2.44,"type":"quantitative"},"y":{"datum":3.63,"type":"quantitative"},"text":{"value":"-0.06"}}}
]
}
]
}
